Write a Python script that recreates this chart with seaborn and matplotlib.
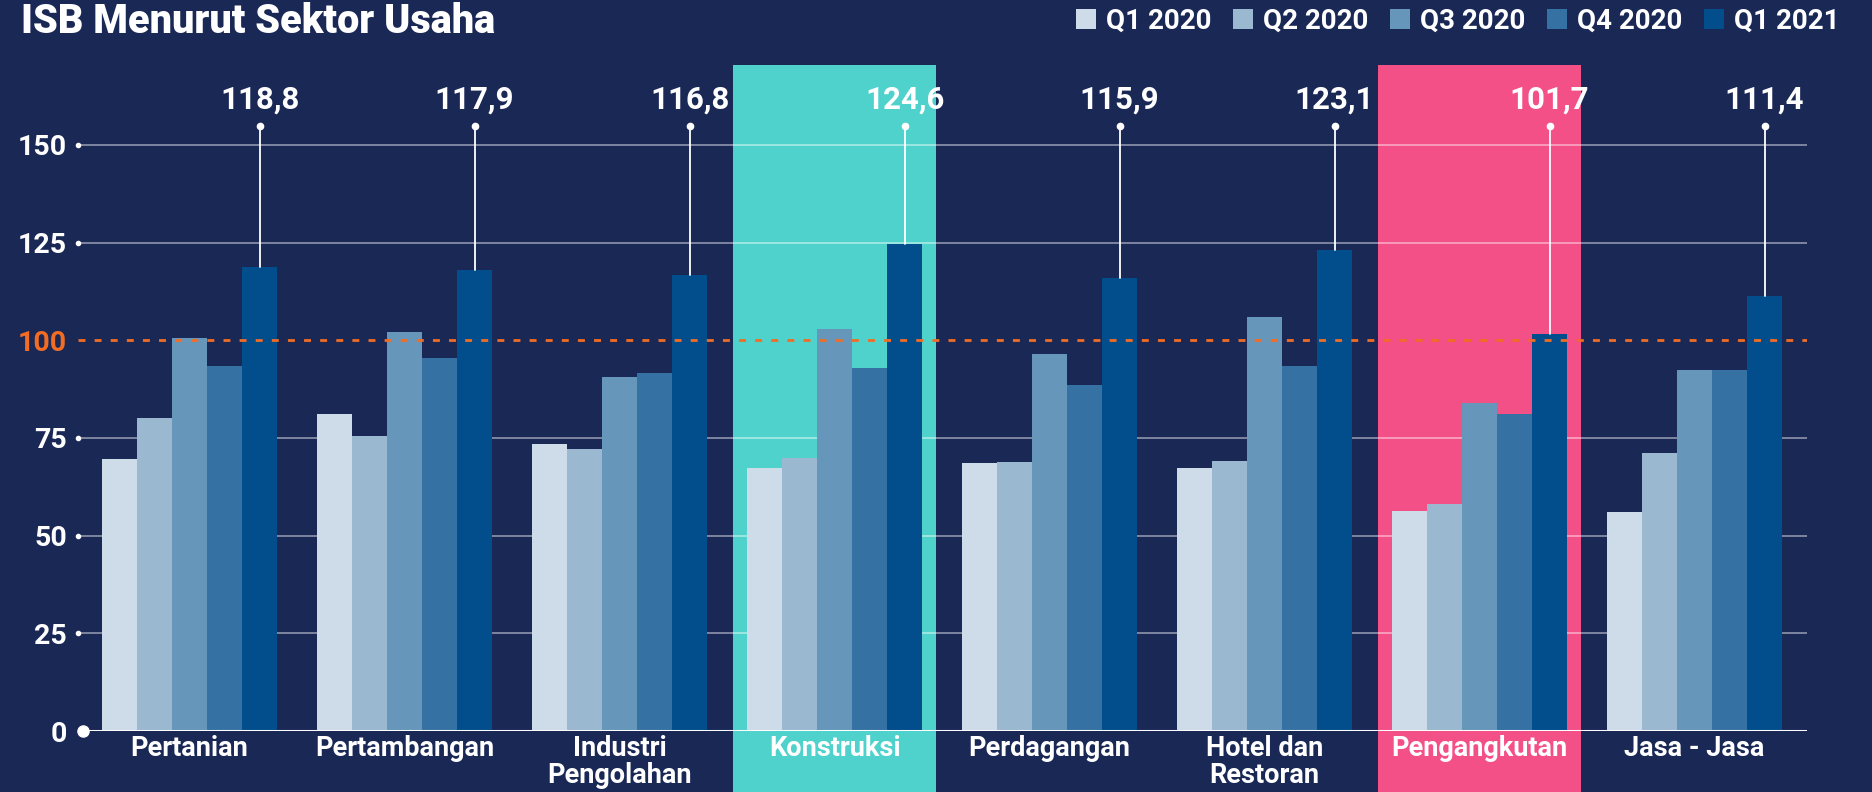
import matplotlib
matplotlib.use("Agg")
import matplotlib.pyplot as plt
import matplotlib.transforms as mtransforms
from matplotlib.patches import Rectangle
import numpy as np
import pandas as pd
import seaborn as sns

# ---- data -------------------------------------------------------------
sektor = ["Pertanian", "Pertambangan", "Industri\nPengolahan", "Konstruksi",
          "Perdagangan", "Hotel dan\nRestoran", "Pengangkutan", "Jasa - Jasa"]
kuartal = ["Q1 2020", "Q2 2020", "Q3 2020", "Q4 2020", "Q1 2021"]
q1_2020 = [69.6, 81.1, 73.5, 67.3, 68.6, 67.3, 56.3, 56.1]
q2_2020 = [80.1, 75.5, 72.2, 69.9, 68.8, 69.1, 58.1, 71.2]
q3_2020 = [100.6, 102.1, 90.6, 102.9, 96.5, 106.0, 83.9, 92.4]
q4_2020 = [93.4, 95.5, 91.6, 92.9, 88.6, 93.4, 81.1, 92.4]
q1_2021 = [118.8, 117.9, 116.8, 124.6, 115.9, 123.1, 101.7, 111.4]
y_ticks = [0, 25, 50, 75, 100, 125, 150]
ambang = 100
sorotan = {"Konstruksi": "#4fd2cb", "Pengangkutan": "#f45088"}

# ---- style --------------------------------------------------------------
BG = "#1a2856"
palet = ["#cddce8", "#9ab8cf", "#6696b9", "#3572a3", "#024d8b"]
ORANGE = "#f26d23"
sns.set_theme(style="white")
plt.rcParams["font.family"] = ["Roboto", "DejaVu Sans"]
plt.rcParams["font.weight"] = "bold"

seri = [q1_2020, q2_2020, q3_2020, q4_2020, q1_2021]
df = pd.DataFrame({
    "sektor": np.repeat([sektor], len(kuartal), axis=0).ravel(),
    "kuartal": np.repeat(kuartal, len(sektor)),
    "nilai": np.concatenate(seri),
})

W, H = 1872, 792
fig = plt.figure(figsize=(W / 100, H / 100), dpi=100, facecolor=BG)
ax = fig.add_axes([78 / W, 61 / H, 1729 / W, 664.2 / H])
ax.set_facecolor("none")

sns.barplot(data=df, x="sektor", y="nilai", hue="kuartal", order=sektor,
            hue_order=kuartal, palette=palet, saturation=1, width=0.814,
            linewidth=0, edgecolor="none", errorbar=None, ax=ax, zorder=3)

ax.set_xlim(-0.519, 7.523)
ax.set_ylim(0, 170)
for s in ax.spines.values():
    s.set_visible(False)

# highlighted sectors: coloured columns running down past the axis
blend = mtransforms.blended_transform_factory(ax.transData, fig.transFigure)
for nama, warna in sorotan.items():
    i = sektor.index(nama)
    ax.add_patch(Rectangle((i - 0.472, 0), 0.944, (H - 65) / H, transform=blend,
                           facecolor=warna, edgecolor="none", zorder=0,
                           clip_on=False))

# gridlines with small end dots
ydot = mtransforms.blended_transform_factory(ax.transAxes, ax.transData)
for y in y_ticks:
    if y in (0, ambang):
        continue
    ax.axhline(y, color="white", alpha=0.55, lw=1.1, zorder=1)
    ax.plot([0], [y], marker="o", ms=3, color="white", transform=ydot,
            zorder=2, clip_on=False)

# baseline
ax.axhline(0, color="white", lw=2.2, zorder=4)
ax.plot([0.003], [0], marker="o", ms=8, color="white", transform=ydot,
        zorder=5, clip_on=False)

# reference line at 100
ax.axhline(ambang, color=ORANGE, lw=2.0, linestyle=(0, (2.5, 3.3)), zorder=5)

# y tick labels
ax.set_yticks(y_ticks)
ax.set_yticklabels([str(v) for v in y_ticks])
ax.tick_params(axis="y", length=0, pad=8, labelsize=20.5, labelcolor="white")
for lab, v in zip(ax.get_yticklabels(), y_ticks):
    lab.set_fontweight("bold")
    if v == ambang:
        lab.set_color(ORANGE)

# x tick labels
ax.set_xlabel("")
ax.set_ylabel("")
ax.tick_params(axis="x", length=0, pad=3, labelsize=19.5, labelcolor="white")
for lab in ax.get_xticklabels():
    lab.set_fontweight("bold")
    lab.set_linespacing(0.98)

# Q1 2021 value callouts
bars = ax.containers[-1]
for rect, v in zip(bars, q1_2021):
    xc = rect.get_x() + rect.get_width() / 2
    ax.plot([xc, xc], [v, 154.8], color="white", lw=1.3, zorder=4,
            clip_on=False)
    ax.plot([xc], [154.8], marker="o", ms=4.5, color="white", zorder=5,
            clip_on=False)
    ax.text(xc, 161.5, f"{v:.1f}".replace(".", ","), ha="center",
            va="center", color="white", fontsize=22.5, fontweight="bold",
            zorder=6)

# legend
handles, labels = ax.get_legend_handles_labels()
ax.legend(handles, labels, ncol=5, loc="upper right",
          bbox_to_anchor=(1840 / W, 1 - 8 / H), bbox_transform=fig.transFigure,
          frameon=False, handlelength=0.72, handleheight=0.75,
          handletextpad=0.36, columnspacing=0.78, borderaxespad=0,
          borderpad=0, labelcolor="white",
          prop={"weight": "bold", "size": 20})

# title
fig.text(21 / W, 1 - 2 / H, "ISB Menurut Sektor Usaha", ha="left", va="top",
         color="white", fontsize=28.5, fontweight="heavy")

fig.savefig("out.png", dpi=100, facecolor=BG)
